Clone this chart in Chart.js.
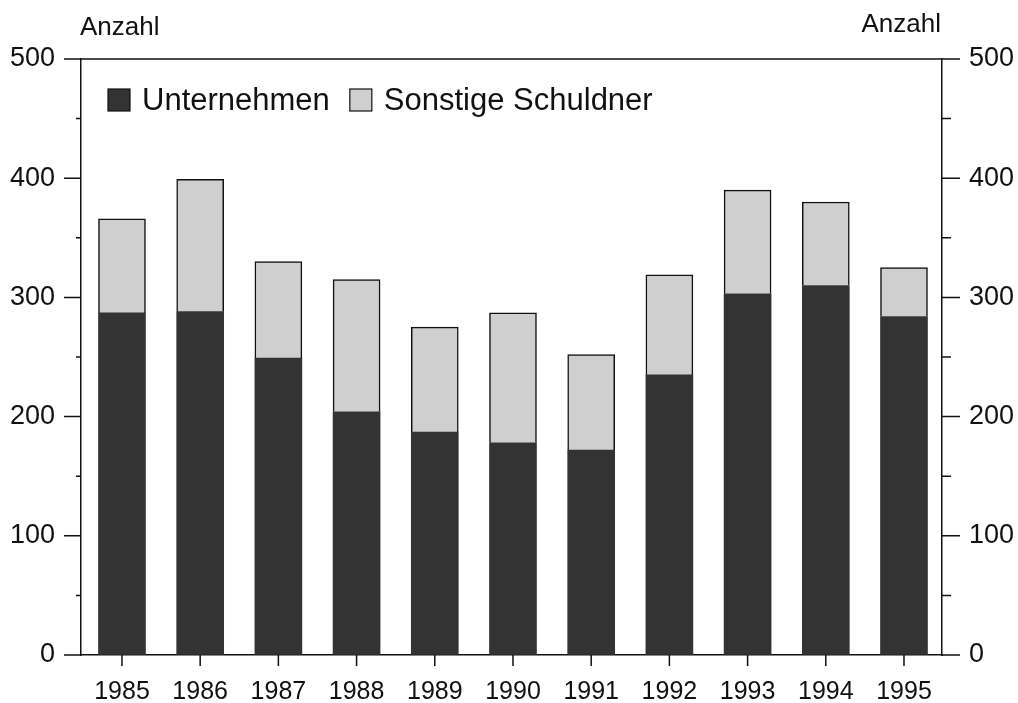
<!DOCTYPE html>
<html>
<head>
<meta charset="utf-8">
<script src="https://cdn.jsdelivr.net/npm/chart.js@4.4.1/dist/chart.umd.min.js"></script>
<style>
html,body{margin:0;padding:0;background:#fff;}
#wrap{width:1018px;height:703px;}
</style>
</head>
<body>
<div id="wrap"><canvas id="c" width="1018" height="703"></canvas></div>
<script>
const years = [1985, 1986, 1987, 1988, 1989, 1990, 1991, 1992, 1993, 1994, 1995];
const unternehmen = [287, 288, 249, 204, 187, 178, 172, 235, 303, 310, 284];
const sonstige = [79, 111, 81, 111, 88, 109, 80, 84, 87, 70, 41];
const yTicks = [0, 50, 100, 150, 200, 250, 300, 350, 400, 450, 500];
const seriesNames = ['Unternehmen', 'Sonstige Schuldner'];
const axisTitle = 'Anzahl';

const FONT = '"Liberation Sans", Arial, Helvetica, sans-serif';
const INK = '#111';

const decor = {
  id: 'decor',
  afterDraw(chart) {
    const {ctx, chartArea: a, scales} = chart;
    ctx.save();
    ctx.strokeStyle = INK;
    ctx.lineWidth = 1.5;
    ctx.beginPath();
    ctx.moveTo(a.left, a.top);
    ctx.lineTo(a.right, a.top);
    yTicks.forEach(v => {
      const py = scales.y.getPixelForValue(v);
      const major = v % 100 === 0;
      ctx.moveTo(a.left - (major ? 17 : 5), py);
      ctx.lineTo(a.left, py);
      const py2 = scales.y2.getPixelForValue(v);
      ctx.moveTo(a.right, py2);
      ctx.lineTo(a.right + (major ? 18 : 9), py2);
    });
    years.forEach(yr => {
      const px = scales.x.getPixelForValue(yr);
      ctx.moveTo(px, a.bottom);
      ctx.lineTo(px, a.bottom + 11);
    });
    ctx.stroke();

    ctx.fillStyle = INK;
    ctx.font = '26px ' + FONT;
    ctx.textBaseline = 'alphabetic';
    ctx.textAlign = 'left';
    ctx.fillText(axisTitle, a.left - 1, 35);
    ctx.textAlign = 'right';
    ctx.fillText(axisTitle, a.right - 1, 32);

    // legend inside the plot area
    ctx.font = '31px ' + FONT;
    ctx.textAlign = 'left';
    ctx.textBaseline = 'middle';
    let lx = a.left + 27;
    const ly = a.top + 30;
    const box = 22;
    chart.data.datasets.forEach(ds => {
      ctx.fillStyle = ds.backgroundColor;
      ctx.fillRect(lx, ly, box, box);
      ctx.lineWidth = 1.2;
      ctx.strokeStyle = INK;
      ctx.strokeRect(lx, ly, box, box);
      ctx.fillStyle = INK;
      const tx = lx + box + 12;
      ctx.fillText(ds.label, tx, ly + box / 2 + 1);
      lx = tx + ctx.measureText(ds.label).width + 20;
    });
    ctx.restore();
  }
};

new Chart(document.getElementById('c'), {
  type: 'bar',
  data: {
    datasets: [
      {
        label: seriesNames[0],
        data: years.map((yr, i) => ({x: yr, y: unternehmen[i]})),
        backgroundColor: '#333333',
        borderColor: '#111',
        borderWidth: 0,
        barThickness: 47
      },
      {
        label: seriesNames[1],
        data: years.map((yr, i) => ({x: yr, y: sonstige[i]})),
        backgroundColor: '#cfcfcf',
        borderColor: '#111',
        borderWidth: 1.5,
        barThickness: 47
      }
    ]
  },
  options: {
    responsive: false,
    animation: false,
    devicePixelRatio: 1,
    layout: {padding: {top: 59, left: 0, right: 0, bottom: 0}},
    plugins: {
      tooltip: {enabled: false},
      legend: {display: false}
    },
    scales: {
      x: {
        type: 'linear',
        stacked: true,
        offset: false,
        min: 1984.476,
        max: 1995.486,
        afterBuildTicks: s => { s.ticks = years.map(v => ({value: v})); },
        afterFit: s => { s.height = 48; },
        grid: {display: true, drawOnChartArea: false, drawTicks: false, offset: false},
        border: {display: true, color: INK, width: 1.5},
        ticks: {
          color: INK,
          padding: 22,
          maxRotation: 0,
          autoSkip: false,
          font: {family: FONT, size: 25},
          callback: v => String(v)
        }
      },
      y: {
        type: 'linear',
        position: 'left',
        stacked: true,
        min: 0,
        max: 500,
        afterBuildTicks: s => { s.ticks = yTicks.map(v => ({value: v})); },
        afterFit: s => { s.width = 81; },
        grid: {display: true, drawOnChartArea: false, drawTicks: false},
        border: {display: true, color: INK, width: 1.5},
        ticks: {
          color: INK,
          padding: 26,
          autoSkip: false,
          font: {family: FONT, size: 27},
          callback: v => (v % 100 === 0 ? String(v) : '')
        }
      },
      y2: {
        type: 'linear',
        position: 'right',
        min: 0,
        max: 500,
        afterBuildTicks: s => { s.ticks = yTicks.map(v => ({value: v})); },
        afterFit: s => { s.width = 76; },
        grid: {display: true, drawOnChartArea: false, drawTicks: false},
        border: {display: true, color: INK, width: 1.5},
        ticks: {
          color: INK,
          padding: 27,
          autoSkip: false,
          font: {family: FONT, size: 27},
          callback: v => (v % 100 === 0 ? String(v) : '')
        }
      }
    }
  },
  plugins: [decor]
});
</script>
</body>
</html>
